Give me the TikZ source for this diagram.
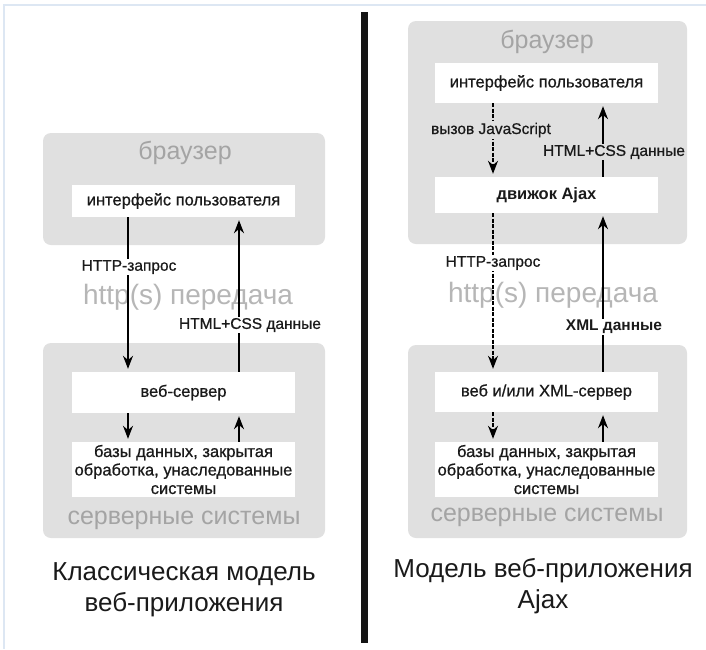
\documentclass[tikz,border=0pt]{standalone}
\usepackage{fontspec}
\setmainfont{Liberation Sans}
\newfontfamily\semibf[FakeBold=0.7]{Liberation Sans}
\usetikzlibrary{arrows.meta}
\definecolor{boxgray}{HTML}{E0E0E0}
\definecolor{lblgray}{HTML}{A4A4A4}
\definecolor{framebl}{HTML}{DDE7F3}
\definecolor{txt}{HTML}{1A1A1A}
\begin{document}
\begin{tikzpicture}[x=1pt,y=-1pt,
 graybox/.style={fill=boxgray, rounded corners=8pt},
 whitebox/.style={fill=white, draw=none, inner sep=0pt, minimum width=223pt, text=txt, font=\semibf\fontsize{16.5}{18.5}\selectfont, align=center},
 biglbl/.style={text=lblgray, font=\fontsize{25}{28}\selectfont, inner sep=0pt},
 translbl/.style={text=lblgray!80, font=\fontsize{28}{30}\selectfont, inner sep=0pt},
 arrlbl/.style={fill=white, text=txt, font=\semibf\fontsize{15.5}{17}\selectfont, inner sep=1.5pt},
 arrlblg/.style={arrlbl, fill=boxgray},
 title/.style={text=txt, font=\fontsize{26}{31}\selectfont, align=center, inner sep=0pt},
 flow/.style={line width=1.5pt, draw=black, -{Stealth[length=13pt,width=10pt]}, shorten >=3pt},
 flowd/.style={flow, dash pattern=on 4pt off 1.5pt},
]
\useasboundingbox (0,0) rectangle (706,649);
\fill[white] (0,0) rectangle (706,649);
\draw[framebl, line width=2pt] (4,649) -- (4,5) -- (706,5);
\fill[black!92] (361,12) rectangle (368,643);

% ---------- left panel ----------
\fill[graybox] (43,133) rectangle (325,245);
\fill[graybox] (43,343) rectangle (325,538);
\node[biglbl] (lbr) at (185,153) {браузер};
\node[translbl] (lhttp) at (188,297) {http(s) передача};
\node[biglbl] (lss) at (184,520) {серверные системы};
\node[whitebox, minimum height=32pt] (lui) at (183.5,201) {интерфейс пользователя};
\node[whitebox, minimum height=41pt] (lws) at (183.5,392.5) {веб-сервер};
\node[whitebox, minimum height=55pt] (ldb) at (183.5,469.5) {базы данных, закрытая\\обработка, унаследованные\\системы};
\coordinate (lxd) at (128,0);
\coordinate (lxu) at (239,0);
\draw[flow] (lui.south -| lxd) -- (lws.north -| lxd);
\draw[flow] (lws.north -| lxu) -- (lui.south -| lxu);
\draw[flow] (lws.south -| lxd) -- (ldb.north -| lxd);
\draw[flow] (ldb.north -| lxu) -- (lws.south -| lxu);
\node[arrlbl] (lreq) at (129,267) {HTTP-запрос};
\node[arrlbl] (lresp) at (250,325) {HTML+CSS данные};
\node[title] (ltitle) at (184,590) {Классическая модель\\веб-приложения};

% ---------- right panel ----------
\fill[graybox] (408,21) rectangle (687,244);
\fill[graybox] (408,345) rectangle (687,538);
\node[biglbl] (rbr) at (547,42) {браузер};
\node[translbl] (rhttp) at (553,295) {http(s) передача};
\node[biglbl] (rss) at (547,517) {серверные системы};
\node[whitebox, minimum height=40pt] (rui) at (546.5,83) {интерфейс пользователя};
\node[whitebox, minimum height=36pt, font=\fontsize{16.5}{18.5}\selectfont\bfseries] (raj) at (546.5,195) {движок Ajax};
\node[whitebox, minimum height=40pt] (rws) at (546.5,392) {веб и/или XML-сервер};
\node[whitebox, minimum height=55pt] (rdb) at (546.5,469.5) {базы данных, закрытая\\обработка, унаследованные\\системы};
\coordinate (rxd) at (493,0);
\coordinate (rxu) at (603,0);
\draw[flowd] (rui.south -| rxd) -- (raj.north -| rxd);
\draw[flow] (raj.north -| rxu) -- (rui.south -| rxu);
\draw[flowd] (raj.south -| rxd) -- (rws.north -| rxd);
\draw[flow] (rws.north -| rxu) -- (raj.south -| rxu);
\draw[flowd] (rws.south -| rxd) -- (rdb.north -| rxd);
\draw[flow] (rdb.north -| rxu) -- (rws.south -| rxu);
\node[arrlblg] (rjs) at (491,130) {вызов JavaScript};
\node[arrlblg] (rresp) at (614,152) {HTML+CSS данные};
\node[arrlbl] (rreq) at (493,263) {HTTP-запрос};
\node[arrlbl, font=\fontsize{15.5}{17}\selectfont\bfseries] (rxml) at (614,327) {XML данные};
\node[title] (rtitle) at (543,586) {Модель веб-приложения\\Ajax};
\end{tikzpicture}
\end{document}
